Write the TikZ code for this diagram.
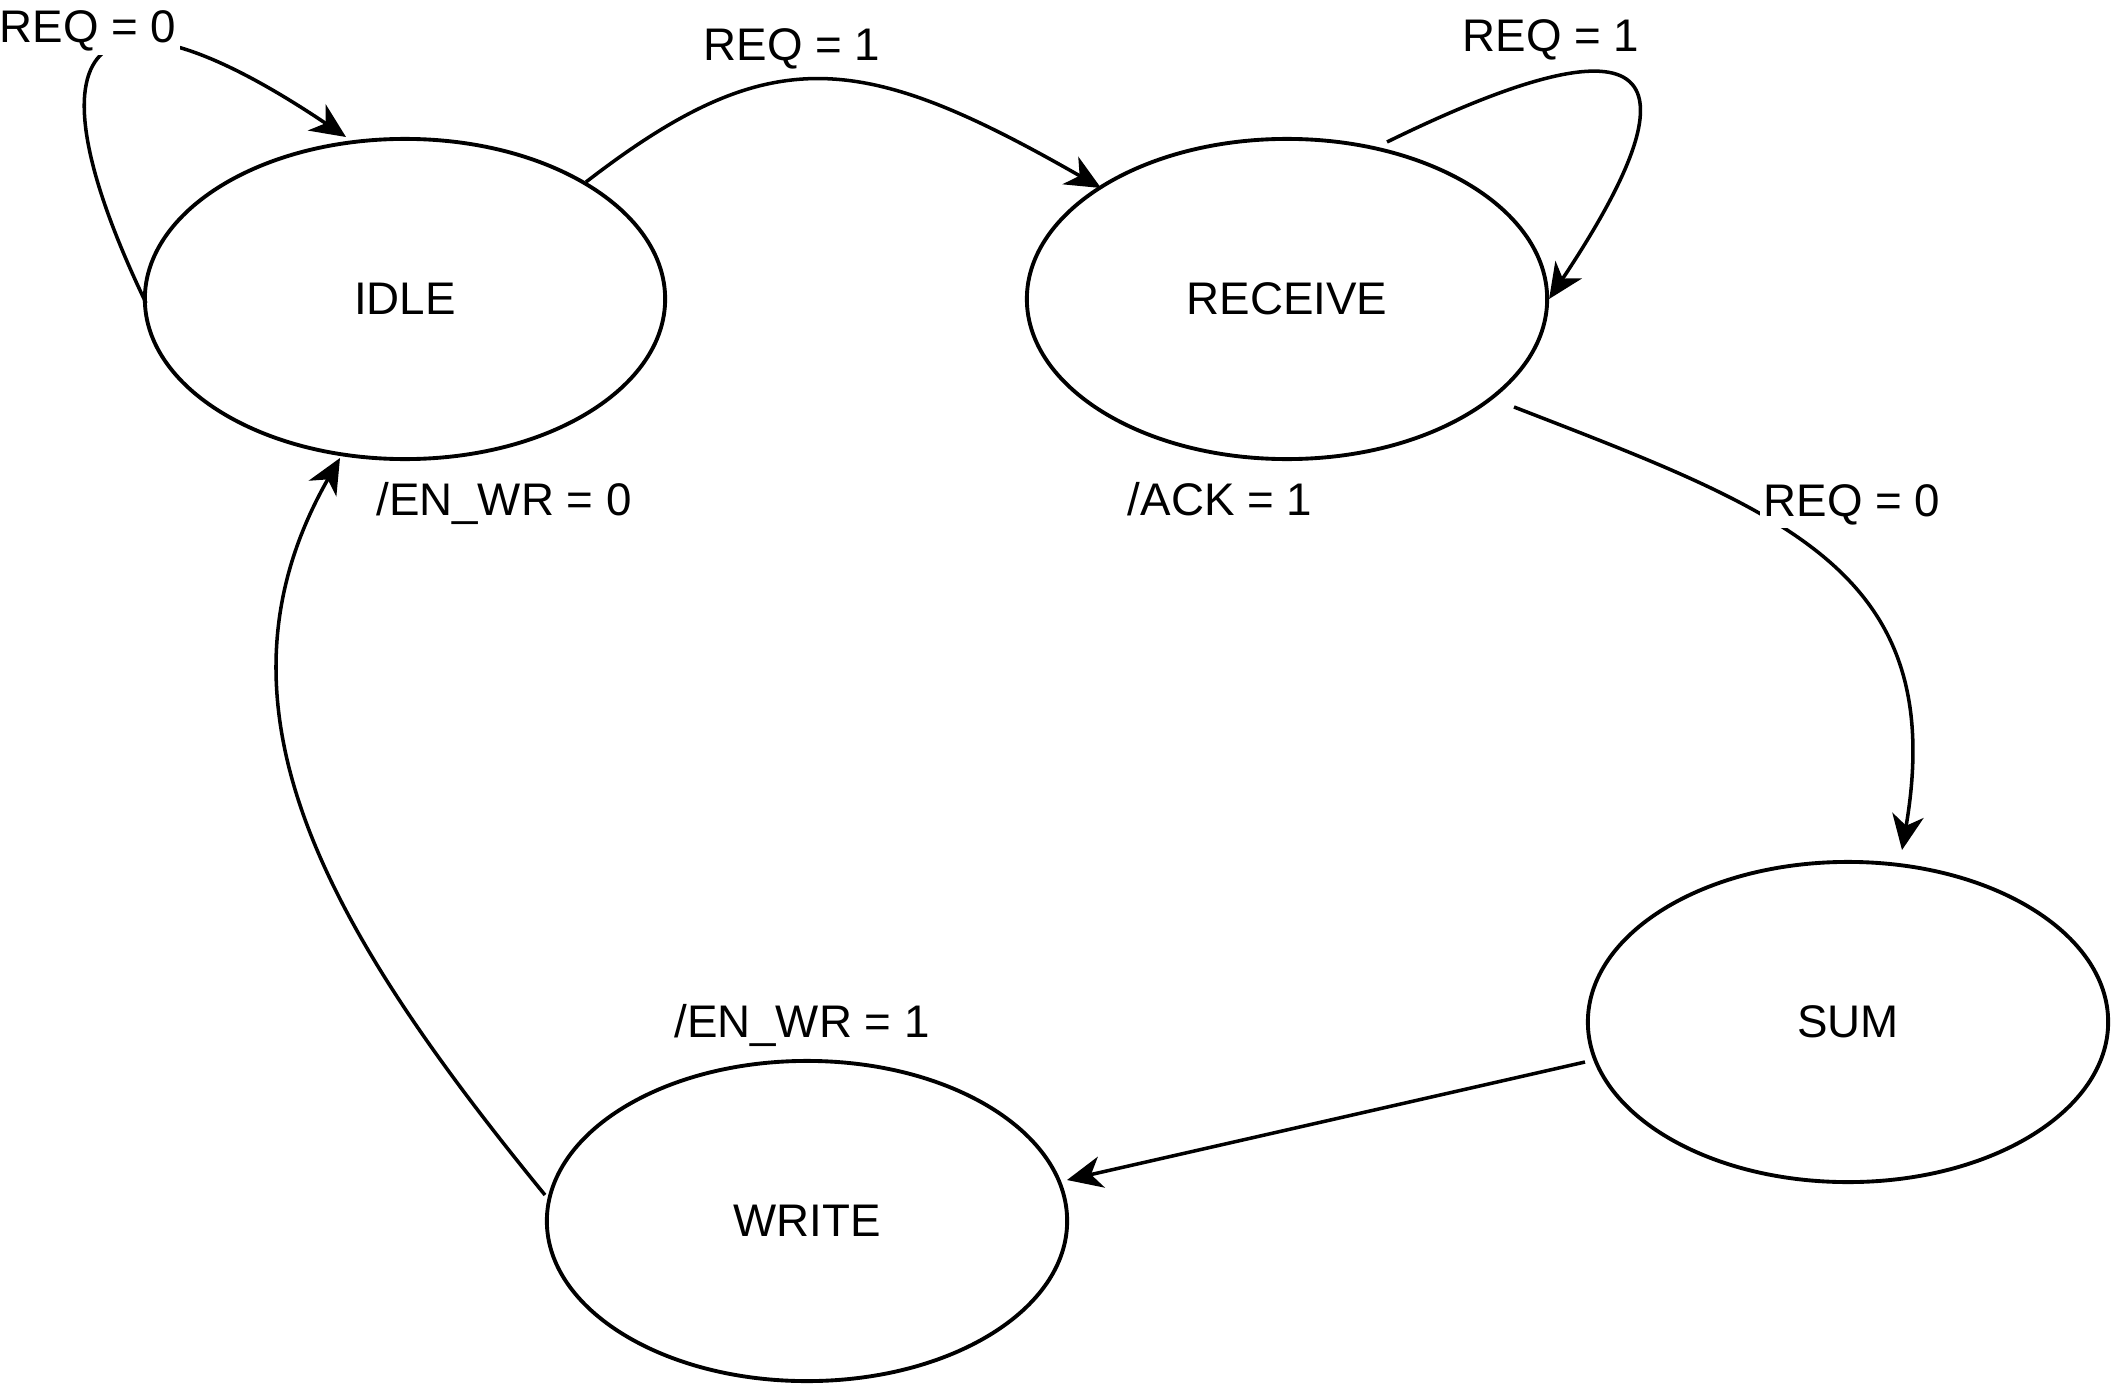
\documentclass[tikz,border=0pt]{standalone}
\usepackage{fontspec}
\setmainfont{Liberation Sans}
\usetikzlibrary{arrows.meta,shapes,calc,positioning}

\begin{document}
\begin{tikzpicture}[x=0.01cm, y=-0.01cm]
		\tikzstyle{every node}=[font=\fontsize{13}{15}\selectfont]
		\tikzstyle{state}=[ellipse, draw, line width=1.1pt, minimum width=5.2cm, minimum height=3.2cm, inner sep=0pt]
		\tikzstyle{cond}=[fill=white, inner sep=1pt, anchor=base]
		\tikzstyle{trans}=[line width=1pt, -{Stealth[length=10pt, width=9pt, inset=3pt]}]
		\useasboundingbox (0,0) rectangle (2112,1388);
		% states
		\node [state] (idle) at (405,299) {IDLE};
		\node [state] (receive) at (1287,299) {RECEIVE};
		\node [state] (sum) at (1848,1022) {SUM};
		\node [state] (write) at (807,1221) {WRITE};
		% transitions
		\draw [trans] ([shift={(-259,4)}]idle.center) .. controls +(-126,-263) and +(-256,-172) .. ([shift={(-59,-162)}]idle.center);
		\draw [trans] ([shift={(181,-117)}]idle.center) .. controls +(184,-142) and +(-241,-138) .. ([shift={(-186,-111)}]receive.center);
		\draw [trans] ([shift={(100,-157)}]receive.center) .. controls +(239,-117) and +(172,-258) .. (receive.east);
		\draw [trans] ([shift={(227,108)}]receive.center) .. controls +(268,104) and +(48,-280) .. ([shift={(54,-172)}]sum.center);
		\draw [trans] ([shift={(-263,40)}]sum.center) -- ([shift={(260,-41)}]write.center);
		\draw [trans] ([shift={(-262,-26)}]write.center) .. controls +(-224,-274) and +(-140,245) .. ([shift={(-65,159)}]idle.center);
		% conditions / outputs
		\node [cond] (reqzero) at (88,43) {REQ = 0};
		\node [cond] (reqone) at (792,61) {REQ = 1};
		\node [cond] (reqhold) at (1551,52) {REQ = 1};
		\node [cond] (reqdone) at (1852,516) {REQ = 0};
		\node [cond] (ackout) at (1220,515) {/ACK = 1};
		\node [cond] (enwrzero) at (504,515) {/EN\_WR = 0};
		\node [cond] (enwrone) at (802,1037) {/EN\_WR = 1};
\end{tikzpicture}
\end{document}
